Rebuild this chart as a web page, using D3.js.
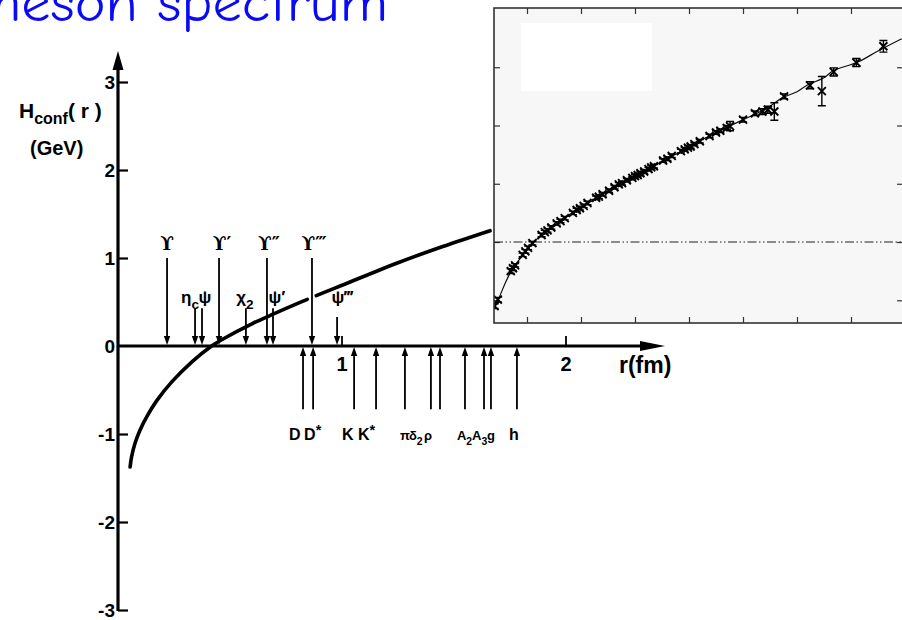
<!DOCTYPE html>
<html><head><meta charset="utf-8">
<script src="https://cdn.jsdelivr.net/npm/d3@7"></script>
<style>
html,body{margin:0;padding:0;background:#fff;}
svg{display:block;}
.lbl{font-family:"Liberation Sans",Arial,Helvetica,sans-serif;font-weight:bold;fill:#000;}
.ups{font-family:"DejaVu Serif",serif;font-weight:bold;fill:#000;}
</style></head><body>
<svg id="chart" width="902" height="620"></svg>
<script>
// ---------- confining potential H_conf(r) [GeV] vs r [fm] ----------
const potR = [0.054, 0.061, 0.076, 0.098, 0.128, 0.173, 0.24, 0.33, 0.418, 0.469, 0.6, 0.7, 0.826, 0.845, 0.885, 1.0, 1.259, 1.45, 1.661];
const potV = [-1.375, -1.255, -1.105, -0.957, -0.805, -0.621, -0.408, -0.18, 0.0, 0.08, 0.255, 0.37, 0.51, 0.53, 0.572, 0.69, 0.955, 1.13, 1.31];
const curveGap = [0.845, 0.885];           // break in the curve where the ϒ‴ arrow passes

const yTicks = [-3, -2, -1, 0, 1, 2, 3];
const xTicks = [1, 2];

// heavy-quarkonium levels (arrows from above), r in fm
const upperR = [0.219, 0.344, 0.375, 0.451, 0.571, 0.665, 0.692, 0.866, 0.978];
const upperLabels = ["ϒ", "η_c", "ψ", "ϒ′", "χ_2", "ϒ″", "ψ′", "ϒ‴", "ψ‴"];

// light / open-flavour mesons (arrows from below), r in fm
const lowerR = [0.826, 0.871, 1.054, 1.152, 1.281, 1.397, 1.4375, 1.549, 1.634, 1.665, 1.781];
const lowerLabels = ["D", "D^*", "K", "K^*", "π", "δ_2", "ρ", "A_2", "A_3", "g", "h"];

// ---------- lattice potential (inset) ----------
const fitU = [0.39, 0.48, 0.6, 0.69, 0.8, 0.93, 1.0, 1.15, 1.3, 1.45, 1.61, 1.8, 2.0, 2.3, 2.5, 2.75, 3.04, 3.25, 3.5, 3.7, 4.0, 4.25, 4.57, 4.75, 5.0, 5.26, 5.5, 5.72, 6.0, 6.2, 6.5, 6.67, 7.13, 7.5, 7.94];
const fitV = [-1.12, -0.96, -0.70, -0.53, -0.37, -0.22, -0.12, 0.02, 0.15, 0.25, 0.33, 0.48, 0.60, 0.76, 0.88, 1.01, 1.15, 1.26, 1.38, 1.48, 1.63, 1.76, 1.91, 1.99, 2.10, 2.21, 2.33, 2.47, 2.58, 2.70, 2.82, 2.94, 3.09, 3.28, 3.49];

const latU = [0.40, 0.46, 0.70, 0.74, 0.78, 0.92, 0.97, 1.02, 1.10, 1.27, 1.33, 1.38, 1.45, 1.55, 1.62, 1.70, 1.85, 1.92, 1.98, 2.05, 2.12, 2.28, 2.33, 2.40, 2.52, 2.62, 2.70, 2.76, 2.85, 2.95, 3.00, 3.05, 3.10, 3.17, 3.25, 3.30, 3.35, 3.52, 3.60, 3.68, 3.85, 3.92, 3.98, 4.03, 4.10, 4.20, 4.38, 4.50, 4.58, 4.70, 4.76, 5.00, 5.22, 5.36, 5.46, 5.58, 5.76, 6.24, 6.46, 6.68, 7.10, 7.60];
const latV = [-1.10, -0.99, -0.50, -0.45, -0.40, -0.22, -0.16, -0.10, -0.02, 0.12, 0.17, 0.20, 0.25, 0.32, 0.36, 0.41, 0.50, 0.55, 0.58, 0.62, 0.67, 0.76, 0.78, 0.82, 0.88, 0.94, 0.99, 1.01, 1.06, 1.10, 1.13, 1.15, 1.18, 1.21, 1.25, 1.28, 1.30, 1.40, 1.43, 1.48, 1.56, 1.59, 1.62, 1.64, 1.68, 1.73, 1.82, 1.88, 1.91, 1.96, 1.99, 2.10, 2.21, 2.24, 2.27, 2.24, 2.50, 2.69, 2.59, 2.92, 3.08, 3.36];
const latErr = [0.04, 0.04, 0.04, 0.04, 0.03, 0.03, 0.03, 0.03, 0.03, 0.03, 0.03, 0.03, 0.03, 0.03, 0.03, 0.03, 0.03, 0.03, 0.03, 0.03, 0.03, 0.03, 0.03, 0.03, 0.03, 0.03, 0.03, 0.03, 0.03, 0.03, 0.03, 0.03, 0.03, 0.03, 0.03, 0.03, 0.03, 0.03, 0.03, 0.03, 0.03, 0.03, 0.03, 0.03, 0.03, 0.03, 0.03, 0.03, 0.03, 0.04, 0.08, 0.04, 0.04, 0.05, 0.06, 0.15, 0.04, 0.06, 0.25, 0.07, 0.07, 0.10];
const insetXTicks = [1, 2, 3, 4, 5, 6, 7];
const insetYTicks = [-1, 0, 1, 2, 3];

// ---------- drawing ----------
const svg = d3.select("#chart");

// title
svg.append("text")
  .attr("x", -27).attr("y", 21)
  .attr("textLength", 415).attr("lengthAdjust", "spacingAndGlyphs")
  .style("font-family", "'Comic Sans MS','Comic Neue','DejaVu Sans',sans-serif")
  .style("font-size", "54px").style("fill", "#0a0af4")
  .text("meson spectrum");

const x = d3.scaleLinear().domain([0, 2]).range([118, 566]);
const y = d3.scaleLinear().domain([-3, 3]).range([610, 82]);

const main = svg.append("g");

// y axis with ticks pointing right
const yAxis = d3.axisLeft(y).tickValues(yTicks).tickSizeInner(-10).tickSizeOuter(0).tickPadding(3)
  .tickFormat(d => d < 0 ? "-" + (-d) : String(d));
const gy = main.append("g").attr("transform", `translate(${x(0)},0)`).call(yAxis);
gy.select(".domain").remove();
gy.selectAll(".tick line").attr("stroke", "#000").attr("stroke-width", 2.2)
  .filter(d => d === 0).remove();
gy.selectAll(".tick text").attr("class", "lbl").style("font-size", "19px").attr("dy", "0.33em");

// x axis ticks (upward) and labels
xTicks.forEach(t => {
  main.append("line").attr("x1", x(t)).attr("x2", x(t)).attr("y1", y(0)).attr("y2", y(0) - 10)
    .attr("stroke", "#000").attr("stroke-width", 1.8);
  main.append("text").attr("class", "lbl").attr("x", x(t)).attr("y", y(0) + 25)
    .attr("text-anchor", "middle").style("font-size", "20px").text(t);
});

// axis lines with arrowheads
const yTop = y(3) - 31;
main.append("line").attr("x1", x(0)).attr("x2", x(0)).attr("y1", y(-3) + 1).attr("y2", yTop + 14)
  .attr("stroke", "#000").attr("stroke-width", 3.2);
main.append("path").attr("d", `M${x(0)},${yTop} L${x(0) - 5.5},${yTop + 19} L${x(0) + 5.5},${yTop + 19} Z`).attr("fill", "#000");
const xEnd = x(2) + 99;
main.append("line").attr("x1", x(0)).attr("x2", xEnd - 18).attr("y1", y(0)).attr("y2", y(0))
  .attr("stroke", "#000").attr("stroke-width", 3.2);
main.append("path").attr("d", `M${xEnd},${y(0)} L${xEnd - 25},${y(0) - 5} L${xEnd - 25},${y(0) + 5} Z`).attr("fill", "#000");

// axis titles
const yl = main.append("text").attr("class", "lbl").attr("x", 19).attr("y", 118).style("font-size", "21px");
yl.append("tspan").text("H");
yl.append("tspan").attr("dy", 6).style("font-size", "16px").text("conf");
yl.append("tspan").attr("dy", -6).text("( r )");
main.append("text").attr("class", "lbl").attr("x", 30).attr("y", 155).style("font-size", "20px").text("(GeV)");
main.append("text").attr("class", "lbl").attr("x", 619).attr("y", 373).style("font-size", "23px").text("r(fm)");

// potential curve (two pieces either side of the gap)
const pts = potR.map((r, i) => [r, potV[i]]);
const line = d3.line().x(d => x(d[0])).y(d => y(d[1])).curve(d3.curveCatmullRom.alpha(0.5));
[pts.filter(d => d[0] <= curveGap[0]), pts.filter(d => d[0] >= curveGap[1])].forEach(seg => {
  main.append("path").attr("d", line(seg)).attr("fill", "none")
    .attr("stroke", "#000").attr("stroke-width", 3.6).attr("stroke-linecap", "round");
});

// helper: label text with _sub / ^sup
function addLabel(g, txt, lx, ly, size, cls, anchor) {
  const t = g.append("text").attr("class", cls).attr("x", lx).attr("y", ly)
    .attr("text-anchor", anchor).style("font-size", size + "px");
  const m = txt.match(/^([^_^]+)([_^])?(.*)$/);
  t.append("tspan").text(m[1]);
  if (m[2] === "_") t.append("tspan").attr("dy", size * 0.35).style("font-size", (size * 0.8) + "px").text(m[3]);
  if (m[2] === "^") t.append("tspan").attr("dy", -size * 0.3).style("font-size", (size * 0.9) + "px").text(m[3]);
  return t;
}

function arrowHead(g, ax, ay, dir) { // dir: +1 points down, -1 points up
  g.append("path").attr("d", `M${ax},${ay} L${ax - 3.2},${ay - dir * 9} L${ax + 3.2},${ay - dir * 9} Z`).attr("fill", "#000");
}

// upper arrows
const upperDx = [0, -5, 3, 3, -1, 2, 4, 2, 5];
upperR.forEach((r, i) => {
  const lab = upperLabels[i];
  const isUps = lab.startsWith("ϒ");
  const top = isUps ? 1.0 : (lab === "ψ‴" ? 0.33 : 0.43);
  const ax = x(r);
  main.append("line").attr("x1", ax).attr("x2", ax).attr("y1", y(top)).attr("y2", y(0) - 6)
    .attr("stroke", "#000").attr("stroke-width", 1.8);
  arrowHead(main, ax, y(0) - 1, 1);
  if (isUps) addLabel(main, lab, ax + upperDx[i], 250, 18, "ups", "middle");
  else addLabel(main, lab, ax + upperDx[i], 303, 17, "lbl", "middle");
});

// lower arrows; labels start a little left of their arrow
const lowerDx = [-14, -9, -12, -18, -5, -22, -16, -8, -12, -4, -8];
const lowerSize = [16, 16, 16, 16, 13, 13, 13, 13, 13, 13, 16];
lowerR.forEach((r, i) => {
  const ax = x(r);
  main.append("line").attr("x1", ax).attr("x2", ax).attr("y1", y(-0.72)).attr("y2", y(0) + 6)
    .attr("stroke", "#000").attr("stroke-width", 1.8);
  arrowHead(main, ax, y(0) + 1, -1);
  addLabel(main, lowerLabels[i], ax + lowerDx[i], 440, lowerSize[i], "lbl", "start");
});

// ---------- inset ----------
const ix = d3.scaleLinear().domain([0.389, 7.963]).range([494, 903]);
const iy = d3.scaleLinear().domain([-1.39, 4.017]).range([323, 8]);
const [ix0, ix1] = ix.range(), [iy1, iy0] = iy.range();
const inset = svg.append("g");
svg.append("clipPath").attr("id", "insetClip").append("rect")
  .attr("x", ix0).attr("y", iy0).attr("width", ix1 - ix0).attr("height", iy1 - iy0);
inset.append("rect").attr("x", ix0).attr("y", iy0).attr("width", ix1 - ix0).attr("height", iy1 - iy0)
  .attr("fill", "#f7f7f7");

const tickStyle = g => { g.select(".domain").remove(); g.selectAll(".tick line").attr("stroke", "#333").attr("stroke-width", 1.2); };
inset.append("g").attr("transform", `translate(0,${iy0})`)
  .call(d3.axisTop(ix).tickValues(insetXTicks).tickSize(-6).tickFormat("")).call(tickStyle);
inset.append("g").attr("transform", `translate(0,${iy1})`)
  .call(d3.axisBottom(ix).tickValues(insetXTicks).tickSize(-6).tickFormat("")).call(tickStyle);
inset.append("g").attr("transform", `translate(${ix0},0)`)
  .call(d3.axisLeft(iy).tickValues(insetYTicks).tickSize(-6).tickFormat("")).call(tickStyle);
inset.append("g").attr("transform", `translate(${ix1},0)`)
  .call(d3.axisRight(iy).tickValues(insetYTicks).tickSize(-6).tickFormat("")).call(tickStyle);

// blank legend panel
inset.append("rect").attr("x", ix0 + 27).attr("y", iy0 + 15).attr("width", 131).attr("height", 68).attr("fill", "#fff");

const plot = inset.append("g").attr("clip-path", "url(#insetClip)");
// zero reference line
plot.append("line").attr("x1", ix0).attr("x2", ix1).attr("y1", iy(0)).attr("y2", iy(0))
  .attr("stroke", "#222").attr("stroke-width", 1.1).attr("stroke-dasharray", "9,2.5,1.5,2.5,1.5,2.5");
// fitted curve
const fitLine = d3.line().x(d => ix(d[0])).y(d => iy(d[1])).curve(d3.curveCatmullRom);
plot.append("path").attr("d", fitLine(fitU.map((u, i) => [u, fitV[i]])))
  .attr("fill", "none").attr("stroke", "#111").attr("stroke-width", 1.2);
// data points: crosses with error bars
latU.forEach((u, i) => {
  const px = ix(u), py = iy(latV[i]), lo = iy(latV[i] - latErr[i]), hi = iy(latV[i] + latErr[i]);
  const g = plot.append("g").attr("stroke", "#000").attr("fill", "none");
  g.append("path").attr("d", `M${px - 4},${py - 4}L${px + 4},${py + 4}M${px - 4},${py + 4}L${px + 4},${py - 4}`)
    .attr("stroke-width", 1.9);
  g.append("path").attr("d", `M${px},${lo}L${px},${hi}M${px - 4},${lo}L${px + 4},${lo}M${px - 4},${hi}L${px + 4},${hi}`)
    .attr("stroke-width", 1.4);
});
// frame
inset.append("rect").attr("x", ix0).attr("y", iy0).attr("width", ix1 - ix0).attr("height", iy1 - iy0)
  .attr("fill", "none").attr("stroke", "#333").attr("stroke-width", 1.6);
</script>
</body></html>
